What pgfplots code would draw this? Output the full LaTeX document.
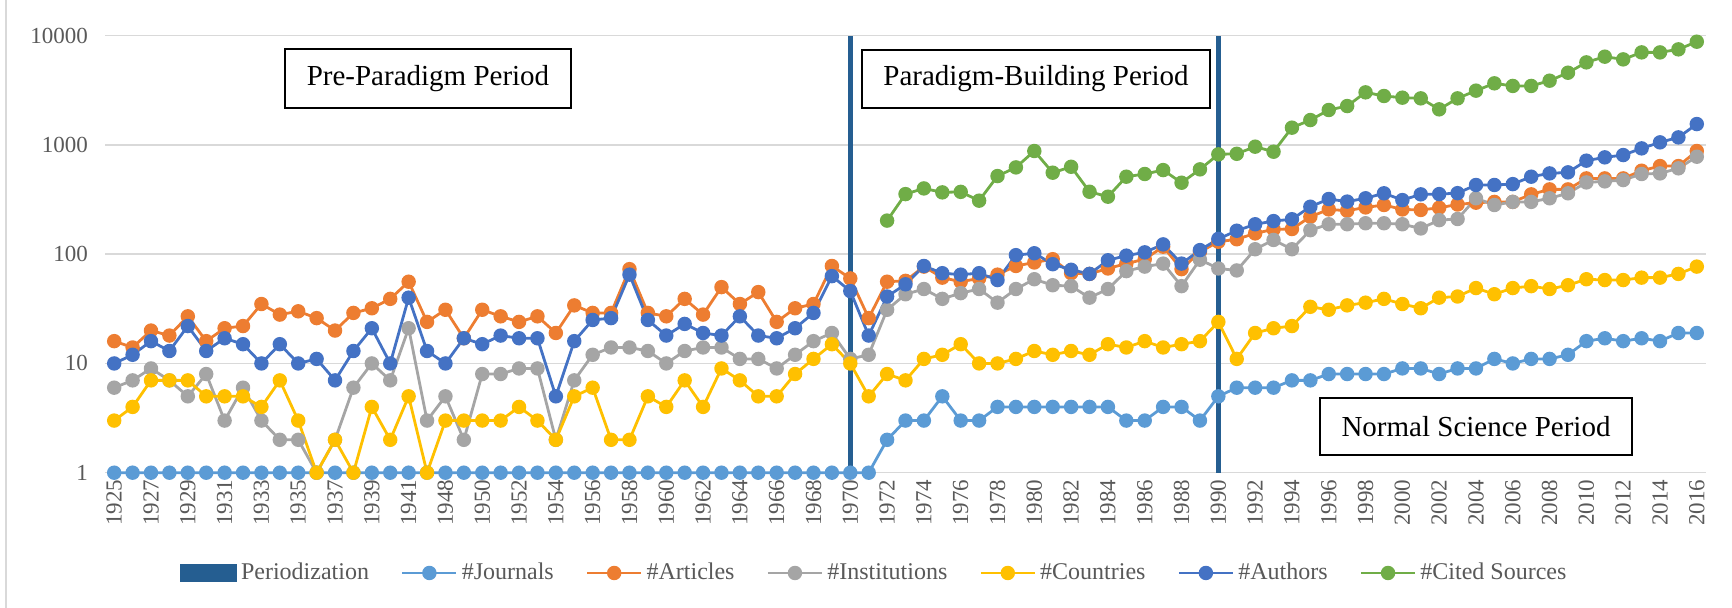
\documentclass[border=0pt]{standalone}
\usepackage{fontspec}
\setmainfont{Liberation Serif}
\usepackage{pgfplots}
\usepackage{pgfplotstable}
\pgfplotsset{compat=1.18}

\definecolor{cPeriod}{HTML}{255E91}
\definecolor{cJour}{HTML}{5B9BD5}
\definecolor{cArt}{HTML}{ED7D31}
\definecolor{cInst}{HTML}{A5A5A5}
\definecolor{cCoun}{HTML}{FFC000}
\definecolor{cAuth}{HTML}{4472C4}
\definecolor{cCited}{HTML}{70AD47}
\definecolor{gridgray}{HTML}{D9D9D9}
\definecolor{tickgray}{HTML}{595959}

% idx = category position (1942-1947 missing, one extra year between 1941 and 1948)
\pgfplotstableread{
idx J A I C U S
0 1 16 6 3 10 nan
1 1 14 7 4 12 nan
2 1 20 9 7 16 nan
3 1 18 7 7 13 nan
4 1 27 5 7 22 nan
5 1 16 8 5 13 nan
6 1 21 3 5 17 nan
7 1 22 6 5 15 nan
8 1 35 3 4 10 nan
9 1 28 2 7 15 nan
10 1 30 2 3 10 nan
11 1 26 1 1 11 nan
12 1 20 2 2 7 nan
13 1 29 6 1 13 nan
14 1 32 10 4 21 nan
15 1 39 7 2 10 nan
16 1 56 21 5 40 nan
17 1 24 3 1 13 nan
18 1 31 5 3 10 nan
19 1 17 2 3 17 nan
20 1 31 8 3 15 nan
21 1 27 8 3 18 nan
22 1 24 9 4 17 nan
23 1 27 9 3 17 nan
24 1 19 2 2 5 nan
25 1 34 7 5 16 nan
26 1 29 12 6 25 nan
27 1 29 14 2 26 nan
28 1 73 14 2 65 nan
29 1 29 13 5 25 nan
30 1 27 10 4 18 nan
31 1 39 13 7 23 nan
32 1 28 14 4 19 nan
33 1 50 14 9 18 nan
34 1 35 11 7 27 nan
35 1 45 11 5 18 nan
36 1 24 9 5 17 nan
37 1 32 12 8 21 nan
38 1 35 16 11 29 nan
39 1 78 19 15 63 nan
40 1 60 11 10 46 nan
41 1 26 12 5 18 nan
42 2 56 31 8 41 203
43 3 57 43 7 53 355
44 3 77 48 11 78 400
45 5 61 39 12 67 368
46 3 56 44 15 65 372
47 3 60 48 10 67 309
48 4 65 36 10 58 519
49 4 78 48 11 98 623
50 4 84 59 13 102 880
51 4 90 52 12 81 557
52 4 67 51 13 72 631
53 4 66 40 12 66 373
54 4 74 48 15 88 336
55 3 82 70 14 97 512
56 3 90 77 16 104 542
57 4 117 82 14 123 589
58 4 73 51 15 82 451
59 3 105 89 16 109 598
60 5 130 74 24 138 820
61 6 137 71 11 164 830
62 6 155 111 19 188 964
63 6 169 135 21 201 867
64 7 170 111 22 209 1439
65 7 220 166 33 272 1690
66 8 257 188 31 320 2089
67 8 250 188 34 303 2270
68 8 268 192 36 325 3030
69 8 282 192 39 361 2805
70 9 257 188 35 313 2707
71 9 254 172 32 353 2670
72 8 266 205 40 355 2118
73 9 285 210 41 362 2670
74 9 296 325 49 430 3140
75 11 301 282 43 430 3664
76 10 301 301 49 438 3467
77 11 353 301 51 512 3467
78 11 392 325 48 549 3873
79 12 392 361 52 561 4582
80 16 494 454 59 718 5700
81 17 494 464 58 770 6426
82 16 494 477 58 808 6070
83 17 581 542 61 930 7034
84 16 641 549 61 1056 7034
85 19 641 611 66 1173 7500
86 19 880 780 77 1553 8810
}\datatable

\begin{document}
\begin{tikzpicture}
\useasboundingbox (0,0) rectangle (866pt,304pt);
\draw[gridgray, line width=0.75pt] (3pt,0) -- (3pt,304pt);

\begin{axis}[
    at={(52.5pt,67.65pt)}, anchor=south west,
    scale only axis, width=800.5pt, height=218.5pt,
    ymode=log, ymin=1, ymax=10000,
    xmin=-0.5, xmax=86.5,
    clip=false,
    unbounded coords=jump,
    axis line style={draw=none},
    major tick length=0, minor tick length=0,
    ymajorgrids, grid style={gridgray, line width=0.75pt},
    ytick={1,10,100,1000,10000},
    yticklabels={1,10,100,1000,10000},
    xtick={0,2,...,86},
    xticklabels={1925,1927,1929,1931,1933,1935,1937,1939,1941,1948,1950,1952,1954,1956,1958,1960,1962,1964,1966,1968,1970,1972,1974,1976,1978,1980,1982,1984,1986,1988,1990,1992,1994,1996,1998,2000,2002,2004,2006,2008,2010,2012,2014,2016},
    ticklabel style={font=\fontsize{11.5}{13}\selectfont, text=tickgray},
    xticklabel style={rotate=90, anchor=east},
    yticklabel style={xshift=-5pt},
    legend style={at={(0.481,-0.2295)}, anchor=center, draw=none,
        font=\fontsize{12}{14}\selectfont, text=tickgray,
        /tikz/every odd column/.append style={column sep=0pt},
        /tikz/every even column/.append style={column sep=14pt}},
    legend columns=-1,
    legend image code/.code={
        \draw[mark repeat=2, mark phase=2] plot coordinates {(0pt,0pt) (13.5pt,0pt) (27pt,0pt)};},
    every axis plot/.append style={line width=1.4pt, mark=*, mark size=2.9pt},
]

% periodization markers at 1970 and 1990
\addplot[cPeriod, line width=2.65pt, mark=none,
    legend image code/.code={\fill[cPeriod] (0pt,-3pt) rectangle (26pt,3pt);}]
    coordinates {(40,1) (40,10000) (50,nan) (60,1) (60,10000)};
\addlegendentry{Periodization}

\addplot[cJour, mark options={fill=cJour}] table[x=idx, y=J] {\datatable};
\addlegendentry{\#Journals}
\addplot[cArt, mark options={fill=cArt}] table[x=idx, y=A] {\datatable};
\addlegendentry{\#Articles}
\addplot[cInst, mark options={fill=cInst}] table[x=idx, y=I] {\datatable};
\addlegendentry{\#Institutions}
\addplot[cCoun, mark options={fill=cCoun}] table[x=idx, y=C] {\datatable};
\addlegendentry{\#Countries}
\addplot[cAuth, mark options={fill=cAuth}] table[x=idx, y=U] {\datatable};
\addlegendentry{\#Authors}
\addplot[cCited, mark options={fill=cCited}] table[x=idx, y=S] {\datatable};
\addlegendentry{\#Cited Sources}
\end{axis}

\tikzset{period/.style={draw=black, line width=0.7pt, fill=white, inner sep=0pt,
    font=\fontsize{14.5}{16}\selectfont}}
\node[period, minimum width=143pt, minimum height=29.5pt] at (214pt,264.75pt) {Pre-Paradigm Period};
\node[period, minimum width=174pt, minimum height=29pt] at (518pt,264.5pt) {Paradigm-Building Period};
\node[period, minimum width=156pt, minimum height=28.5pt] at (738pt,90.75pt) {Normal Science Period};
\end{tikzpicture}
\end{document}
